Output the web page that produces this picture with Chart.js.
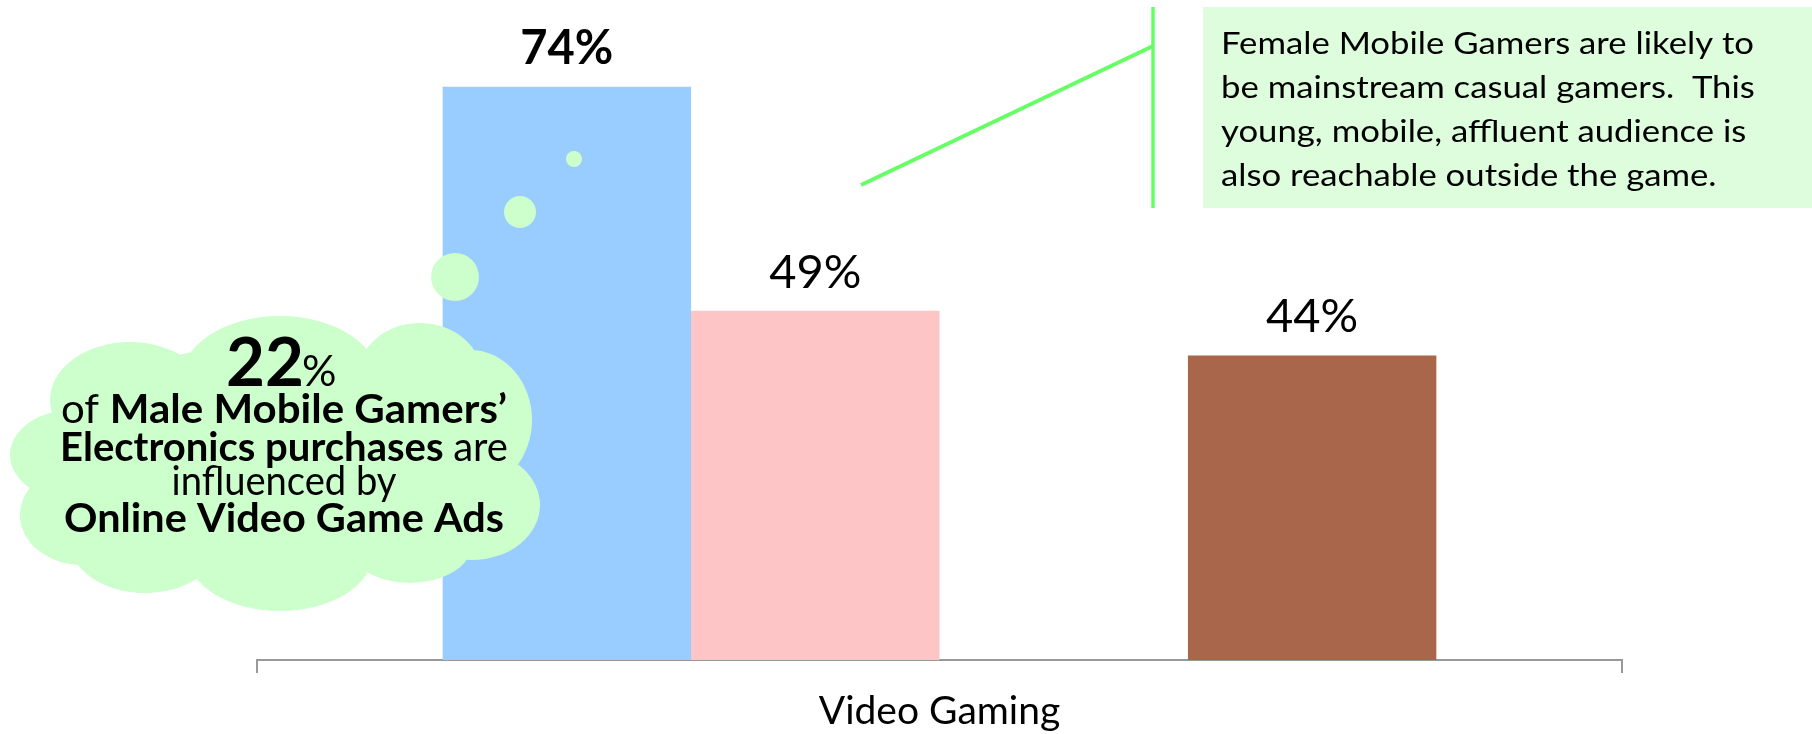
<!DOCTYPE html>
<html>
<head>
<meta charset="utf-8">
<script src="https://cdn.jsdelivr.net/npm/chart.js@4/dist/chart.umd.min.js"></script>
<style>
  html, body { margin: 0; padding: 0; background: #fff; }
  #wrap { width: 1812px; height: 734px; }
</style>
</head>
<body>
<div id="wrap"><canvas id="Chart" width="1812" height="734"></canvas></div>
<script>
// categories and series
const categories = ['Video Gaming'];
const seriesNames = ['Male Mobile Gamers', 'Female Mobile Gamers', '', 'All Mobile Gamers'];
const maleValues = [74];
const femaleValues = [49];
const spacerValues = [null];
const allValues = [44];
const seriesColors = ['#99ccff', '#fdc5c5', '#ffffff', '#aa664a'];

// callout texts
const cloudStat = '22';
const cloudLines = [
    [['of ', false], ['Male Mobile Gamers\u2019', true]],
    [['Electronics purchases ', true], ['are', false]],
    [['influenced by', false]],
    [['Online Video Game Ads', true]]
];
const noteLines = [
    'Female Mobile Gamers are likely to',
    'be mainstream casual gamers.  This',
    'young, mobile, affluent audience is',
    'also reachable outside the game.'
];

const FONT = 'Lato, "Liberation Sans", sans-serif';
const GREEN = '#ccffcc';

// draw a line made of runs with mixed weights, centred and squeezed to a width
function drawRuns(ctx, runs, cx, baseline, size, width) {
    let natural = 0;
    runs.forEach(([t, bold]) => {
        ctx.font = (bold ? 'bold ' : '') + size + 'px ' + FONT;
        natural += ctx.measureText(t).width;
    });
    const sx = width / natural;
    ctx.save();
    ctx.translate(cx - width / 2, baseline);
    ctx.scale(sx, 1);
    let x = 0;
    runs.forEach(([t, bold]) => {
        ctx.font = (bold ? 'bold ' : '') + size + 'px ' + FONT;
        ctx.fillText(t, x, 0);
        x += ctx.measureText(t).width;
    });
    ctx.restore();
}

const barLabels = {
    id: 'barLabels',
    afterDatasetsDraw(chart) {
        const ctx = chart.ctx;
        ctx.save();
        ctx.fillStyle = '#000';
        ctx.textAlign = 'center';
        ctx.textBaseline = 'alphabetic';
        chart.data.datasets.forEach((ds, i) => {
            const v = ds.data[0];
            if (v == null) return;
            const bar = chart.getDatasetMeta(i).data[0];
            ctx.font = (i === 0 ? 'bold ' : '') + '47px ' + FONT;
            ctx.fillText(v + '%', bar.x, bar.y - 23);
        });
        ctx.restore();
    }
};

const callouts = {
    id: 'callouts',
    afterDatasetsDraw(chart) {
        const ctx = chart.ctx;
        ctx.save();

        // thought cloud
        ctx.fillStyle = GREEN;
        const puffs = [
            [275, 462, 230, 118],
            [130, 400, 80, 58],
            [280, 382, 100, 66],
            [420, 376, 62, 53],
            [470, 420, 62, 70],
            [472, 505, 68, 55],
            [410, 544, 62, 39],
            [280, 555, 92, 56],
            [145, 540, 76, 53],
            [82, 515, 62, 50],
            [72, 455, 62, 45]
        ];
        puffs.forEach(([x, y, rx, ry]) => {
            ctx.beginPath();
            ctx.ellipse(x, y, rx, ry, 0, 0, Math.PI * 2);
            ctx.fill();
        });
        [[455, 277, 24], [520, 212, 16], [574, 159, 8]].forEach(([x, y, r]) => {
            ctx.beginPath();
            ctx.arc(x, y, r, 0, Math.PI * 2);
            ctx.fill();
        });

        // cloud text
        ctx.fillStyle = '#000';
        ctx.textAlign = 'left';
        ctx.textBaseline = 'alphabetic';
        ctx.font = 'bold 66px ' + FONT;
        const w22 = ctx.measureText(cloudStat).width;
        ctx.save();
        ctx.translate(226, 386);
        ctx.scale(78 / w22, 1);
        ctx.fillText(cloudStat, 0, 0);
        ctx.restore();
        ctx.font = '43px ' + FONT;
        ctx.fillText('%', 302, 386);

        const baselines = [423, 461, 495, 532];
        const widths = [446, 448, 225, 440];
        cloudLines.forEach((runs, i) => {
            drawRuns(ctx, runs, 284, baselines[i], 40, widths[i]);
        });

        // pointer line to the note
        ctx.strokeStyle = '#66ff66';
        ctx.lineCap = 'butt';
        ctx.lineWidth = 4;
        ctx.beginPath();
        ctx.moveTo(861, 185);
        ctx.lineTo(1153, 46);
        ctx.stroke();
        ctx.lineWidth = 3.5;
        ctx.beginPath();
        ctx.moveTo(1153, 7);
        ctx.lineTo(1153, 208);
        ctx.stroke();

        // note box
        ctx.fillStyle = '#ddfddd';
        ctx.fillRect(1203, 7, 609, 201);
        ctx.fillStyle = '#000';
        ctx.font = '31px ' + FONT;
        const sx = 533 / ctx.measureText(noteLines[0]).width;
        noteLines.forEach((t, i) => {
            ctx.save();
            ctx.translate(1221, 54 + i * 44);
            ctx.scale(sx, 1);
            ctx.fillText(t, 0, 0);
            ctx.restore();
        });

        ctx.restore();
    }
};

const ctx = document.getElementById('Chart').getContext('2d');

const chartOptions = {
    type: 'bar',
    data: {
        labels: categories,
        datasets: [
            { label: seriesNames[0], data: maleValues, backgroundColor: seriesColors[0] },
            { label: seriesNames[1], data: femaleValues, backgroundColor: seriesColors[1] },
            { label: seriesNames[2], data: spacerValues, backgroundColor: seriesColors[2] },
            { label: seriesNames[3], data: allValues, backgroundColor: seriesColors[3] }
        ]
    },
    options: {
        responsive: false,
        animation: false,
        devicePixelRatio: 1,
        layout: { padding: { top: 33, left: 257, right: 190, bottom: 0 } },
        datasets: {
            bar: { categoryPercentage: 0.728, barPercentage: 1.0, borderWidth: 0 }
        },
        plugins: {
            legend: { display: false },
            tooltip: { enabled: false }
        },
        scales: {
            x: {
                afterFit(scale) { scale.height = 74; },
                grid: {
                    display: true,
                    offset: true,
                    drawOnChartArea: false,
                    drawTicks: true,
                    tickLength: 13,
                    color: '#999999',
                    lineWidth: 2
                },
                border: { display: true, color: '#999999', width: 2 },
                ticks: {
                    color: '#000',
                    padding: 15,
                    font: { family: FONT, size: 39 }
                }
            },
            y: {
                display: false,
                min: 10,
                max: 80
            }
        }
    },
    plugins: [callouts, barLabels]
};

const myChart = new Chart(ctx, chartOptions);
</script>
</body>
</html>
